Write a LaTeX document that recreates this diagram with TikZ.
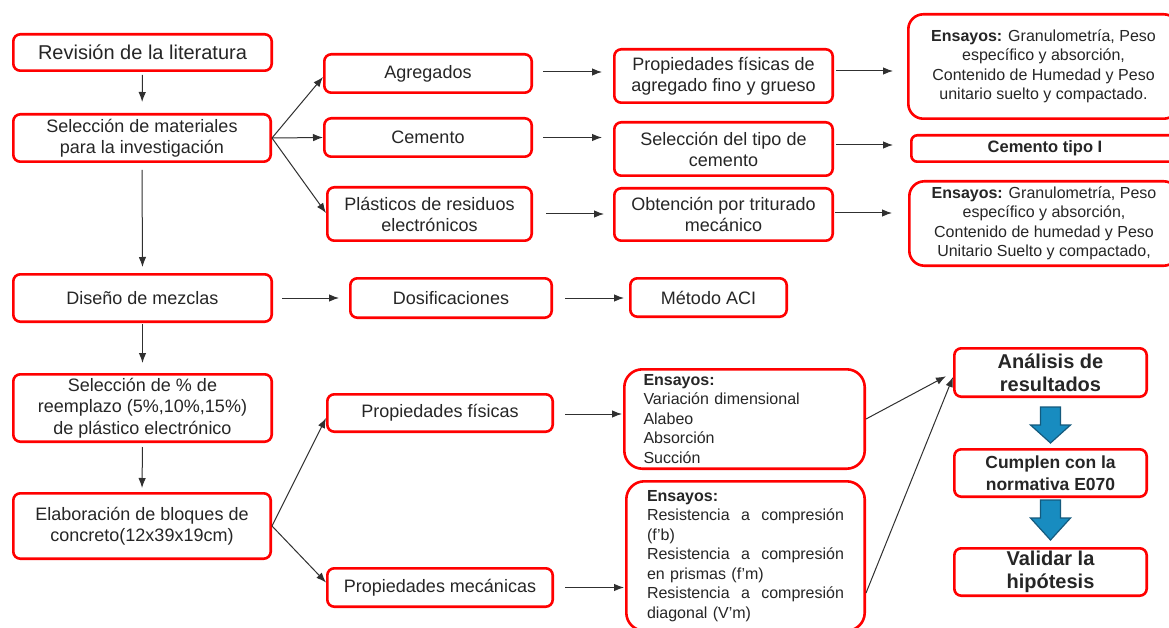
\documentclass[tikz,border=0pt]{standalone}
\usepackage{fontspec}
\setmainfont{Liberation Sans}
\usetikzlibrary{arrows.meta,calc}
\definecolor{txt}{HTML}{262626}
\definecolor{boxred}{HTML}{FF0000}
\definecolor{arr}{HTML}{303030}
\definecolor{bfill}{RGB}{24,140,192}
\definecolor{bdraw}{RGB}{20,90,125}
\tikzset{
  box/.style={draw=boxred, line width=2.6pt, rounded corners=7pt, fill=white, text=txt,
    align=center, inner sep=0pt, font=\fontsize{18}{21}\selectfont},
  lbox/.style={box, font=\fontsize{18}{21.5}\selectfont},
  rbox/.style={box, rounded corners=15pt, font=\fontsize{16}{19.5}\selectfont},
  ebox/.style={box, rounded corners=18pt, align=left, font=\fontsize{16}{19.5}\selectfont},
  bbox/.style={box, font=\bfseries\fontsize{20}{23}\selectfont},
  con/.style={draw=arr, line width=1pt, -{Latex[length=10pt,width=7.5pt]}},
  bluearr/.style={fill=bfill, draw=bdraw, line width=1.2pt, line join=miter}
}
\newcommand\jline[1]{\leavevmode\hbox to 197pt{#1}}
\begin{document}
\begin{tikzpicture}[x=1pt,y=-1pt]
\fill[white] (0,0) rectangle (1169,628);
\useasboundingbox (0,0) rectangle (1169,628);

% left column
\node[lbox, font=\fontsize{20}{23}\selectfont, minimum width=258.4pt, minimum height=36.4pt] (rev) at (142.5,52.5) {Revisión de la literatura};
\node[lbox, minimum width=257.4pt, minimum height=47.4pt] (selmat) at (142,138) {Selección de materiales\\para la investigación};
\node[lbox, minimum width=258.4pt, minimum height=47.4pt] (dis) at (142.5,298) {Diseño de mezclas};
\node[lbox, minimum width=258.4pt, minimum height=67.4pt] (selpct) at (142.5,408) {Selección de \% de\\reemplazo (5\%,10\%,15\%)\\de plástico electrónico};
\node[lbox, minimum width=257.4pt, minimum height=65.4pt] (elab) at (142,526) {Elaboración de bloques de\\concreto(12x39x19cm)};

% second column
\node[box, minimum width=207.4pt, minimum height=38.4pt] (agr) at (428,73.5) {Agregados};
\node[box, minimum width=207.4pt, minimum height=38.4pt] (cem) at (428,137.5) {Cemento};
\node[box, minimum width=204.4pt, minimum height=53.4pt] (plas) at (429.5,214) {Plásticos de residuos\\electrónicos};
\node[box, minimum width=201.4pt, minimum height=39.4pt] (dosif) at (451,298) {Dosificaciones};
\node[lbox, minimum width=225.4pt, minimum height=37.4pt] (pfis) at (440,413) {Propiedades físicas};
\node[lbox, minimum width=225.4pt, minimum height=38.4pt] (pmec) at (440,587.5) {Propiedades mecánicas};

% third column
\node[box, minimum width=218.4pt, minimum height=53.4pt] (propfis) at (723.5,76) {Propiedades físicas de\\agregado fino y grueso};
\node[box, minimum width=218.4pt, minimum height=53.4pt] (seltipo) at (723.5,149) {Selección del tipo de\\cemento};
\node[box, minimum width=218.4pt, minimum height=52.4pt] (obt) at (723.5,214.5) {Obtención por triturado\\mecánico};
\node[box, minimum width=156.4pt, minimum height=38.4pt] (aci) at (708.5,297.5) {Método ACI};
\node[ebox, text width=202pt, minimum width=240.4pt, minimum height=99.4pt] (ensF) at (744.5,419)
  {\textbf{Ensayos:}\\Variación dimensional\\Alabeo\\Absorción\\Succión};
\node[ebox, text width=197pt, minimum width=238.4pt, minimum height=149.4pt] (ensM) at (745.5,556)
  {\textbf{Ensayos:}\\\jline{Resistencia\hfill a\hfill compresión}\\(f’b)\\\jline{Resistencia\hfill a\hfill compresión}\\en prismas (f’m)\\\jline{Resistencia\hfill a\hfill compresión}\\diagonal (V’m)};

% right column
\node[rbox, minimum width=270.4pt, minimum height=104.4pt] (ens1) at (1043.5,66.5)
  {\textbf{Ensayos:} Granulometría, Peso\\específico y absorción,\\Contenido de Humedad y Peso\\unitario suelto y compactado.};
\node[box, rounded corners=6pt, font=\bfseries\fontsize{16.5}{19}\selectfont, minimum width=267.4pt, minimum height=26.4pt] (cemI) at (1045,148.5) {Cemento tipo I};
\node[rbox, minimum width=269.4pt, minimum height=84.4pt] (ens2) at (1044,223.5)
  {\textbf{Ensayos:} Granulometría, Peso\\específico y absorción,\\Contenido de humedad y Peso\\Unitario Suelto y compactado,};
\node[bbox, minimum width=192.4pt, minimum height=48.4pt] (anal) at (1050.5,372.5) {Análisis de\\resultados};
\node[bbox, font=\bfseries\fontsize{17.5}{22}\selectfont, minimum width=192.4pt, minimum height=47.4pt] (cump) at (1050.5,473) {Cumplen con la\\normativa E070};
\node[bbox, minimum width=192.4pt, minimum height=47.4pt] (val) at (1050.5,572) {Validar la\\hipótesis};

% connectors, left column
\draw[con, shorten <=3pt, shorten >=11pt] (rev.south) -- (selmat.north);
\draw[con, shorten <=7pt, shorten >=6pt] (selmat.south) -- (dis.north);
\draw[con, shorten <=1pt, shorten >=10pt] (dis.south) -- (selpct.north);
\draw[con, shorten <=4pt, shorten >=4pt] (selpct.south) -- (elab.north);

% fans
\draw[con] (selmat.east) -- ([yshift=-3.5pt]agr.west);
\draw[con] (selmat.east) -- (cem.west);
\draw[con] (selmat.east) -- ([yshift=1pt]plas.west);
\draw[con] (elab.east) -- ([yshift=-5pt]pfis.west);
\draw[con] (elab.east) -- ([yshift=5pt]pmec.west);

% horizontal arrows
\draw[con, shorten <=10pt, shorten >=11pt] ([yshift=1.5pt]agr.east) -- ([yshift=1.5pt]agr.east -| propfis.west);
\draw[con, shorten <=10pt, shorten >=11pt] (cem.east) -- (cem.east -| seltipo.west);
\draw[con, shorten <=13pt, shorten >=9pt] (plas.east) -- (plas.east -| obt.west);
\draw[con, shorten <=2pt, shorten >=14pt] ([yshift=5pt]propfis.east) -- ([yshift=5pt]propfis.east -| ens1.west);
\draw[con, shorten <=2pt, shorten >=17pt] ([yshift=4pt]seltipo.east) -- ([yshift=4pt]seltipo.east -| cemI.west);
\draw[con, shorten <=1pt, shorten >=16pt] ([yshift=1.5pt]obt.east) -- ([yshift=1.5pt]obt.east -| ens2.west);
\draw[con, shorten <=9pt, shorten >=10pt] (dis.east) -- (dis.east -| dosif.west);
\draw[con, shorten <=12pt, shorten >=5pt] (dosif.east) -- (dosif.east -| aci.west);
\draw[con, shorten <=11pt, shorten >=1pt] ([yshift=-1pt]pfis.east) -- ([yshift=-1pt]pfis.east -| ensF.west);
\draw[con, shorten <=11pt, shorten >=1pt] (pmec.east) -- (pmec.east -| ensM.west);

% to results
\draw[con, shorten >=8pt] (ensF.east) -- (anal.west);
\draw[con] ([yshift=-37pt]ensM.east) -- ([yshift=-4.5pt]anal.west);

% blue arrows
\draw[bluearr] ($(anal.south)+(-10,9)$) -- ($(anal.south)+(10,9)$) -- ($(anal.south)+(10,27)$)
  -- ($(anal.south)+(20,27)$) -- ($(anal.south)+(0,45)$) -- ($(anal.south)+(-20,27)$)
  -- ($(anal.south)+(-10,27)$) -- cycle;
\draw[bluearr] ($(cump.south)+(-10,2)$) -- ($(cump.south)+(10,2)$) -- ($(cump.south)+(10,20)$)
  -- ($(cump.south)+(20,20)$) -- ($(cump.south)+(0,42)$) -- ($(cump.south)+(-20,20)$)
  -- ($(cump.south)+(-10,20)$) -- cycle;
\end{tikzpicture}
\end{document}
